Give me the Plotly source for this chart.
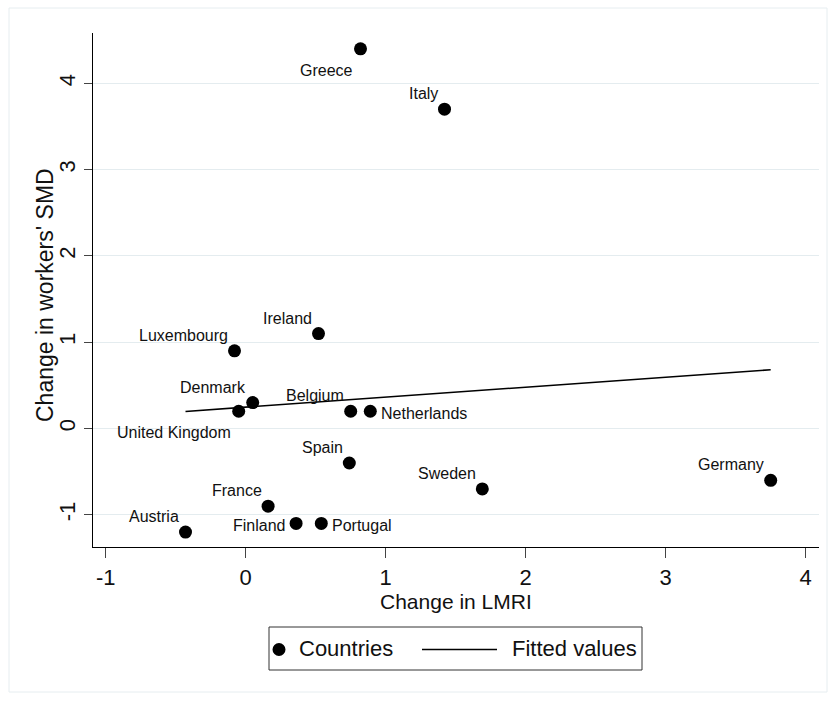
import numpy as np
import plotly.graph_objects as go

# Country-level changes
countries = ["Greece", "Italy", "Ireland", "Luxembourg", "Denmark", "United Kingdom",
             "Belgium", "Netherlands", "Spain", "Sweden", "Germany", "France",
             "Finland", "Portugal", "Austria"]
lmri_change = [0.82, 1.42, 0.52, -0.08, 0.05, -0.05, 0.75, 0.89, 0.74, 1.69, 3.75,
               0.16, 0.36, 0.54, -0.43]
smd_change = [4.4, 3.7, 1.1, 0.9, 0.3, 0.2, 0.2, 0.2, -0.4, -0.7, -0.6, -0.9,
              -1.1, -1.1, -1.2]

x_ticks = [-1, 0, 1, 2, 3, 4]
y_ticks = [-1, 0, 1, 2, 3, 4]
x_title = "Change in LMRI"
y_title = "Change in workers' SMD"
legend_labels = ["Countries", "Fitted values"]

# marker-label placement (clock positions); default is 11 o'clock
label_side = {
    "Greece": 7, "United Kingdom": 7,
    "Netherlands": 3, "Portugal": 3,
    "Finland": 9,
}
# clock position -> (xanchor, yanchor, xshift, yshift)
clock_style = {
    11: ("right", "bottom", -4.5, 5),
    7: ("right", "top", -5.5, -11),
    3: ("left", "middle", 9, -2),
    9: ("right", "middle", -9.5, -2),
}

# OLS fitted values
slope, intercept = np.polyfit(lmri_change, smd_change, 1)
fit_x = np.array([min(lmri_change), max(lmri_change)])
fit_y = intercept + slope * fit_x

W, H = 828, 701
L, R, T, B = 93, 819, 33, 547
FONT = "Liberation Sans, Arial, sans-serif"


def px(xp):
    return (xp - L) / (R - L)


def py(yp):
    return (B - yp) / (B - T)


fig = go.Figure()

fig.add_trace(go.Scatter(
    x=fit_x, y=fit_y, mode="lines",
    line=dict(color="black", width=1.6),
    showlegend=False, hoverinfo="skip",
))

fig.add_trace(go.Scatter(
    x=lmri_change, y=smd_change, mode="markers",
    text=countries, hoverinfo="text+x+y",
    marker=dict(color="black", size=13, line=dict(width=0)),
    showlegend=False, cliponaxis=False,
))

shapes = []
annotations = []

# marker labels
for name, xv, yv in zip(countries, lmri_change, smd_change):
    xa, ya, dx, dy = clock_style[label_side.get(name, 11)]
    annotations.append(dict(
        text=name, x=xv, y=yv, xref="x", yref="y",
        xanchor=xa, yanchor=ya, xshift=dx, yshift=dy,
        showarrow=False, borderpad=1,
        font=dict(family=FONT, size=16, color="#111111"),
    ))

# outer graph-region frame
shapes.append(dict(type="rect", xref="paper", yref="paper",
                   x0=px(9), x1=px(827), y0=py(692), y1=py(8),
                   line=dict(color="#e6edf0", width=1), layer="below"))

# legend box
lg_top, lg_bot = 627, 670
lg_mid = (lg_top + lg_bot) / 2
shapes.append(dict(type="rect", xref="paper", yref="paper",
                   x0=px(269), x1=px(642), y0=py(lg_bot), y1=py(lg_top),
                   line=dict(color="#333333", width=1), fillcolor="white"))
# legend marker
r = 6.5
shapes.append(dict(type="circle", xref="paper", yref="paper",
                   x0=px(279 - r), x1=px(279 + r), y0=py(lg_mid + 1 + r),
                   y1=py(lg_mid + 1 - r),
                   fillcolor="black", line=dict(width=0)))
# legend line
shapes.append(dict(type="line", xref="paper", yref="paper",
                   x0=px(422), x1=px(497), y0=py(lg_mid + 1), y1=py(lg_mid + 1),
                   line=dict(color="black", width=1.6)))
annotations.append(dict(text=legend_labels[0], xref="paper", yref="paper",
                        x=px(297), y=py(lg_mid), xanchor="left", yanchor="middle",
                        showarrow=False,
                        font=dict(family=FONT, size=22, color="#111111")))
annotations.append(dict(text=legend_labels[1], xref="paper", yref="paper",
                        x=px(510), y=py(lg_mid), xanchor="left", yanchor="middle",
                        showarrow=False,
                        font=dict(family=FONT, size=22, color="#111111")))

# axis titles
annotations.append(dict(text=x_title, xref="paper", yref="paper",
                        x=0.5, y=py(601), xanchor="center", yanchor="middle",
                        showarrow=False,
                        font=dict(family=FONT, size=21, color="#111111")))
annotations.append(dict(text=y_title, xref="paper", yref="paper",
                        x=px(45), y=py(295), xanchor="center", yanchor="middle",
                        textangle=-90, showarrow=False,
                        font=dict(family=FONT, size=23, color="#111111")))

fig.update_layout(
    width=W, height=H,
    margin=dict(l=L, r=W - R, t=T, b=H - B, autoexpand=False),
    paper_bgcolor="white", plot_bgcolor="white",
    showlegend=False,
    shapes=shapes, annotations=annotations,
    font=dict(family=FONT, color="#111111"),
)

x0_px, x_unit = 245.7, 140.0
y0_px, y_unit = 428.5, 86.3
fig.update_xaxes(
    range=[(L - x0_px) / x_unit, (R - x0_px) / x_unit],
    tickvals=x_ticks, ticktext=[str(v) for v in x_ticks],
    ticks="outside", ticklen=10, tickwidth=1.3, tickcolor="#444444",
    tickfont=dict(family=FONT, size=22, color="#111111"),
    showline=True, linecolor="black", linewidth=1.3,
    showgrid=False, zeroline=False, automargin=False,
)
fig.update_yaxes(
    range=[(y0_px - B) / y_unit, (y0_px - T) / y_unit],
    tickvals=y_ticks, ticktext=[str(v) for v in y_ticks],
    tickangle=-90,
    ticks="outside", ticklen=8, tickwidth=1.3, tickcolor="#444444",
    tickfont=dict(family=FONT, size=22, color="#111111"),
    showline=True, linecolor="black", linewidth=1.3,
    showgrid=True, gridcolor="#e4ecef", gridwidth=1.3,
    zeroline=False, automargin=False,
)

fig.write_html("out.html")
